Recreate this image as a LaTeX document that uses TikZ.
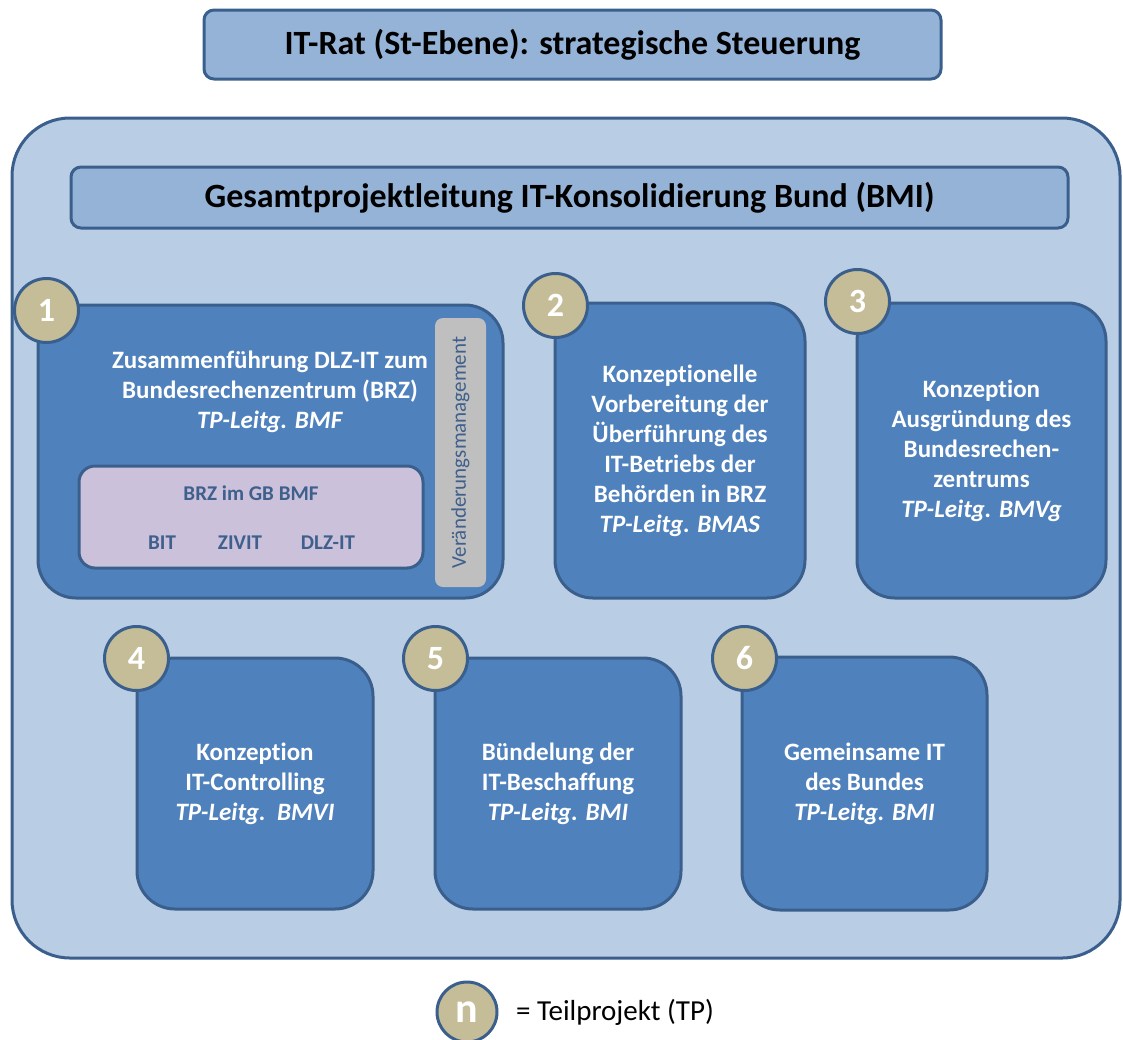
\documentclass[tikz,border=0pt]{standalone}
\usepackage{fontspec}
\setmainfont{Carlito}[Ligatures=NoCommon]
\usepackage{tikz}
\usetikzlibrary{positioning}

\definecolor{rahmen}{HTML}{3A5F8D}
\definecolor{aussen}{HTML}{B9CDE5}
\definecolor{titel}{HTML}{95B3D7}
\definecolor{tpblau}{HTML}{4F81BD}
\definecolor{kreis}{HTML}{C4BD97}
\definecolor{grau}{HTML}{BFBFBF}
\definecolor{lila}{HTML}{CCC1DA}
\definecolor{brztext}{HTML}{3F5F8C}

\begin{document}
\begin{tikzpicture}[x=1pt, y=-1pt, line width=3pt, inner sep=0pt]
            \tikzstyle{titelbox}=[draw=rahmen, fill=titel, rounded corners=10pt, font=\bfseries\fontsize{34}{38}\selectfont]
            \tikzstyle{tpbox}=[draw=rahmen, fill=tpblau, rounded corners=38pt, text=white, align=center, font=\bfseries\fontsize{25}{30}\selectfont]
            \tikzstyle{nummer}=[circle, draw=rahmen, fill=kreis, minimum size=64pt, text=white, font=\bfseries\fontsize{34}{36}\selectfont]
            \tikzstyle{brz}=[text=brztext, font=\bfseries\fontsize{21}{24}\selectfont]

            \useasboundingbox (0,0) rectangle (1123,1039);

            \node[titelbox, minimum width=737pt, minimum height=69pt] (itrat) at (572.5,44.5) {IT-Rat (St-Ebene): strategische Steuerung};
            \node[draw=rahmen, fill=aussen, rounded corners=58pt, minimum width=1108pt, minimum height=840pt] (bund) at (566,538) {};
            \node[titelbox, minimum width=997pt, minimum height=61pt] (gpl) at (569.5,197.5) {Gesamtprojektleitung IT-Konsolidierung Bund (BMI)};

            % Teilprojekt 1 mit BRZ und Veraenderungsmanagement
            \node[tpbox, minimum width=465pt, minimum height=293pt] (tp1) at (270.5,451.5) {};
            \node[text=white, align=center, font=\bfseries\fontsize{25}{30}\selectfont] (tp1text) at (270,392) {Zusammenführung DLZ-IT zum\\Bundesrechenzentrum (BRZ)\\\textit{TP-Leitg. BMF}};
            \node[fill=grau, rounded corners=8pt, minimum width=51pt, minimum height=269pt] (vm) at (460.5,452.5) {};
            \node[rotate=90, text=brztext, font=\fontsize{21}{24}\selectfont] (vmtext) at (vm) {Veränderungsmanagement};
            \node[draw=rahmen, fill=lila, rounded corners=16pt, minimum width=344pt, minimum height=102pt] (brzbox) at (251,517) {};
            \node[brz] (brztitel) at (251,493) {BRZ im GB BMF};
            \node[brz] (bit) at (162,543) {BIT};
            \node[brz] (zivit) at (240,543) {ZIVIT};
            \node[brz] (dlzit) at (328,543) {DLZ-IT};

            \node[tpbox, minimum width=250pt, minimum height=295pt] (tp2) at (680,450.5) {Konzeptionelle\\Vorbereitung der\\Überführung des\\IT-Betriebs der\\Behörden in BRZ\\\textit{TP-Leitg. BMAS}};
            \node[tpbox, minimum width=249pt, minimum height=295pt] (tp3) at (981.5,450.5) {Konzeption\\Ausgründung des\\Bundesrechen-\\zentrums\\\textit{TP-Leitg. BMVg}};
            \node[tpbox, minimum width=236pt, minimum height=251pt] (tp4) at (255,783.5) {Konzeption\\IT-Controlling\\\textit{TP-Leitg.~~BMVI}};
            \node[tpbox, minimum width=246pt, minimum height=251pt] (tp5) at (558,783.5) {Bündelung der\\IT-Beschaffung\\\textit{TP-Leitg. BMI}};
            \node[tpbox, minimum width=245pt, minimum height=253pt] (tp6) at (864.5,783.5) {Gemeinsame IT\\des Bundes\\\textit{TP-Leitg. BMI}};

            \node[nummer] (n1) at ([shift={(10,7)}]tp1.north west) {1};
            \node[nummer] (n2) at ([shift={(2,4)}]tp2.north west) {2};
            \node[nummer] (n3) at ([shift={(2,0)}]tp3.north west) {3};
            \node[nummer] (n4) at ([shift={(1,2)}]tp4.north west) {4};
            \node[nummer] (n5) at ([shift={(2,2)}]tp5.north west) {5};
            \node[nummer] (n6) at ([shift={(4,3)}]tp6.north west) {6};

            % Legende
            \node[nummer, minimum size=60pt, font=\bfseries\fontsize{42}{44}\selectfont] (legende) at (467,1012) {n};
            \node[font=\fontsize{29}{32}\selectfont] (legtext) [right=16pt of legende] {= Teilprojekt (TP)};
          \end{tikzpicture}
\end{document}
